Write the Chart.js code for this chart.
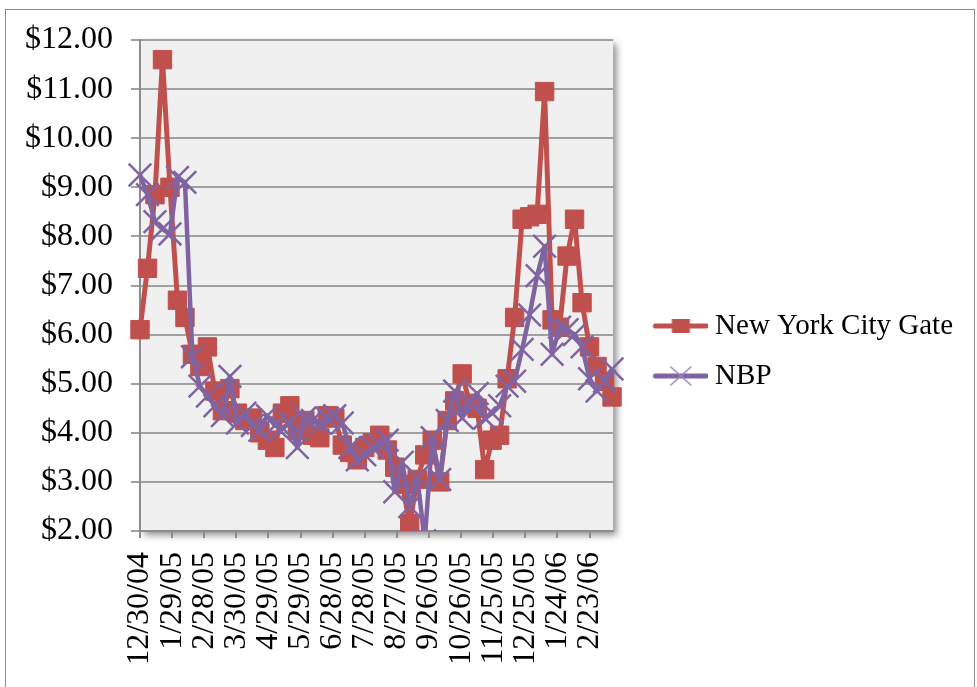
<!DOCTYPE html>
<html>
<head>
<meta charset="utf-8">
<script src="https://cdn.jsdelivr.net/npm/chart.js@4.4.0/dist/chart.umd.min.js"></script>
<style>
  html, body { margin: 0; padding: 0; background: #fff; }
  #frame { position: absolute; left: 5px; top: 9px; width: 970px; height: 700px; border: 1.5px solid #8a8a8a; box-sizing: border-box; }
  #wrap { position: absolute; left: 0; top: 0; width: 977px; height: 687px; }
</style>
</head>
<body>
<div id="frame"></div>
<div id="wrap"><canvas id="gasChart" width="977" height="687"></canvas></div>
<script>
// weekly price dates
const weeks = [
  "12/30/04", "1/6/05", "1/13/05", "1/20/05", "1/27/05", "2/3/05", "2/10/05", "2/17/05",
  "2/24/05", "3/3/05", "3/10/05", "3/17/05", "3/24/05", "3/31/05", "4/7/05", "4/14/05",
  "4/21/05", "4/28/05", "5/5/05", "5/12/05", "5/19/05", "5/26/05", "6/2/05", "6/9/05",
  "6/16/05", "6/23/05", "6/30/05", "7/7/05", "7/14/05", "7/21/05", "7/28/05", "8/4/05",
  "8/11/05", "8/18/05", "8/25/05", "9/1/05", "9/8/05", "9/15/05", "9/22/05", "9/29/05",
  "10/6/05", "10/13/05", "10/20/05", "10/27/05", "11/3/05", "11/10/05", "11/17/05", "11/24/05",
  "12/1/05", "12/8/05", "12/15/05", "12/22/05", "12/29/05", "1/5/06", "1/12/06", "1/19/06",
  "1/26/06", "2/2/06", "2/9/06", "2/16/06", "2/23/06", "3/2/06", "3/9/06", "3/16/06"
];

// New York City Gate ($/MMBtu)
const nycGate = [
  6.10, 7.35, 8.85, 11.60, 9.00, 6.70, 6.35, 5.60, 5.35, 5.75,
  4.85, 4.45, 4.90, 4.40, 4.25, 4.30, 4.00, 3.85, 3.70, 4.40,
  4.55, 4.05, 4.25, 3.95, 3.90, 4.35, 4.30, 3.75, 3.60, 3.45,
  3.70, 3.80, 3.95, 3.65, 3.30, 2.95, 2.15, 3.05, 3.55, 3.85,
  3.00, 4.25, 4.65, 5.20, 4.60, 4.50, 3.25, 3.85, 3.95, 5.10,
  6.35, 8.35, 8.40, 8.45, 10.95, 6.30, 6.15, 7.60, 8.35, 6.65,
  5.75, 5.35, 5.05, 4.73
];

// NBP
const nbp = [
  9.25, 8.85, 8.30, 8.15, 8.05, 9.20, 9.10, 5.55, 4.95, 4.75,
  4.55, 4.35, 5.15, 4.20, 4.40, 4.15, 4.05, 4.35, 4.15, 4.10,
  4.20, 3.70, 4.30, 4.25, 4.20, 4.30, 4.35, 4.20, 3.70, 3.45,
  3.55, 3.70, 3.75, 3.85, 2.80, 3.40, 2.50, 3.10, 1.80, 3.90,
  3.05, 4.25, 4.85, 4.30, 4.65, 4.80, 4.30, 4.40, 4.55, 4.95,
  5.05, 5.70, 6.40, 7.20, 7.80, 5.60, 6.15, 6.10, 6.00, 5.75,
  5.10, 4.85, 5.05, 5.30
];

const seriesNames = ["New York City Gate", "NBP"];
const colors = ["#C0504D", "#8064A2"];

const startDay = Date.UTC(2004, 11, 30);
function dayOf(s) {
  const [m, d, y] = s.split("/").map(Number);
  return (Date.UTC(2000 + y, m - 1, d) - startDay) / 86400000;
}
function fmtDate(v) {
  const dt = new Date(startDay + v * 86400000);
  return (dt.getUTCMonth() + 1) + "/" + dt.getUTCDate() + "/" + String(dt.getUTCFullYear()).slice(2);
}
const toPoints = vals => vals.map((v, i) => ({ x: dayOf(weeks[i]), y: v }));

// legend icons: line with marker
function legendIcon(color, kind) {
  const c = document.createElement("canvas");
  c.width = 82; c.height = 30;
  const g = c.getContext("2d");
  g.strokeStyle = color;
  g.lineWidth = 5;
  g.lineCap = "round";
  g.beginPath(); g.moveTo(29, 15); g.lineTo(80, 15); g.stroke();
  const cx = 54.5;
  if (kind === "rect") {
    g.fillStyle = color;
    g.fillRect(cx - 9, 15 - 7, 18, 14);
  } else {
    g.lineWidth = 1.5;
    g.strokeStyle = "#9b86bb";
    g.beginPath();
    g.moveTo(cx - 10, 6); g.lineTo(cx + 10, 24);
    g.moveTo(cx - 10, 24); g.lineTo(cx + 10, 6);
    g.stroke();
  }
  return c;
}
const icons = [legendIcon(colors[0], "rect"), legendIcon(colors[1], "cross")];

const plotBackground = {
  id: "plotBackground",
  beforeDraw(chart) {
    const { ctx, chartArea: a } = chart;
    ctx.save();
    ctx.shadowColor = "rgba(0,0,0,0.45)";
    ctx.shadowBlur = 7;
    ctx.shadowOffsetX = 4;
    ctx.shadowOffsetY = 4;
    ctx.fillStyle = "#f0f0f0";
    ctx.fillRect(a.left, a.top, a.right - a.left, a.bottom - a.top);
    ctx.restore();
  }
};

const tickFont = { family: "Liberation Serif", size: 32 };
const clipArea = { left: 20, right: 20, top: 20, bottom: 0 };

new Chart(document.getElementById("gasChart"), {
  type: "line",
  data: {
    datasets: [{
      label: seriesNames[0],
      data: toPoints(nycGate),
      borderColor: colors[0],
      backgroundColor: colors[0],
      borderWidth: 5,
      pointStyle: "rect",
      pointRadius: 13,
      pointBorderWidth: 1,
      pointBorderColor: colors[0],
      pointBackgroundColor: colors[0],
      borderJoinStyle: "round",
      order: 1,
      clip: clipArea
    }, {
      label: seriesNames[1],
      data: toPoints(nbp),
      borderColor: colors[1],
      backgroundColor: colors[1],
      borderWidth: 4.5,
      pointStyle: "crossRot",
      pointRadius: 16,
      pointBorderWidth: 2.5,
      pointBorderColor: colors[1],
      borderJoinStyle: "round",
      order: 0,
      clip: clipArea
    }]
  },
  options: {
    responsive: false,
    animation: false,
    layout: { padding: { left: 25, top: 40, right: 14, bottom: 25 } },
    plugins: {
      tooltip: { enabled: false },
      legend: {
        position: "right",
        maxWidth: 420,
        labels: {
          usePointStyle: true,
          pointStyleWidth: 66.5,
          padding: 21,
          color: "#000",
          font: { family: "Liberation Serif", size: 29 },
          sort: (a, b) => a.datasetIndex - b.datasetIndex,
          generateLabels(chart) {
            const items = Chart.defaults.plugins.legend.labels.generateLabels(chart);
            items.forEach(it => { it.pointStyle = icons[it.datasetIndex]; it.rotation = 0; });
            return items;
          }
        }
      }
    },
    scales: {
      x: {
        type: "linear",
        min: 0,
        max: 442,
        afterFit(s) { s.height = 131; },
        border: { color: "#8c8c8c", width: 2 },
        grid: { drawOnChartArea: false, drawTicks: true, tickLength: 7, color: "#8c8c8c", lineWidth: 2 },
        ticks: {
          stepSize: 30,
          includeBounds: false,
          autoSkip: false,
          minRotation: 90,
          maxRotation: 90,
          padding: 14,
          color: "#000",
          font: tickFont,
          callback: v => fmtDate(v)
        }
      },
      y: {
        min: 2,
        max: 12,
        afterFit(s) { s.width = 115; },
        border: { color: "#8c8c8c", width: 2 },
        grid: { color: "#a0a0a0", lineWidth: 2, tickLength: 9 },
        ticks: {
          stepSize: 1,
          padding: 18,
          color: "#000",
          font: tickFont,
          callback: v => "$" + v.toFixed(2)
        }
      }
    }
  },
  plugins: [plotBackground]
});
</script>
</body>
</html>
